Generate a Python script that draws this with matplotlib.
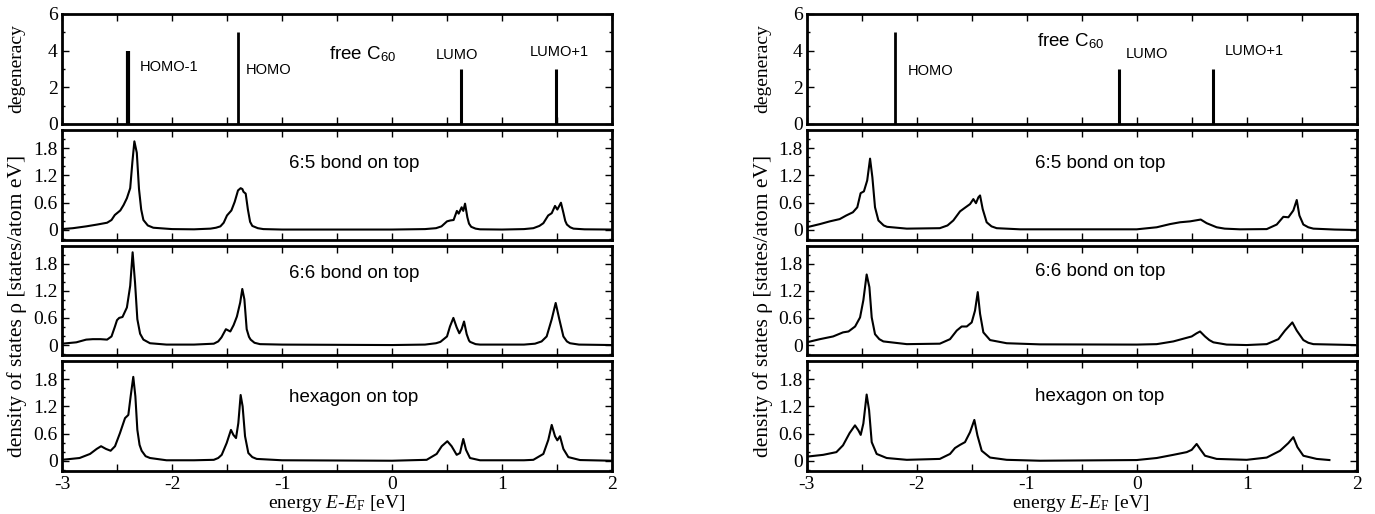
import matplotlib
matplotlib.use("Agg")
import matplotlib.pyplot as plt
from matplotlib.ticker import MultipleLocator, FixedLocator

plt.rcParams['mathtext.fontset'] = 'custom'
plt.rcParams['mathtext.rm'] = 'Liberation Serif'
plt.rcParams['mathtext.it'] = 'Liberation Serif:italic'
plt.rcParams['mathtext.sf'] = 'Liberation Sans'

SERIF = 'Liberation Serif'
SANS = 'Liberation Sans'

# ---------------- data ----------------
# free C60 levels: (energy, degeneracy)
left_levels_E = [-2.40, -1.40, 0.63, 1.49]
left_levels_g = [4, 5, 3, 3]
left_levels_lbl = ["HOMO-1", "HOMO", "LUMO", "LUMO+1"]
right_levels_E = [-2.20, -0.165, 0.695]
right_levels_g = [5, 3, 3]
right_levels_lbl = ["HOMO", "LUMO", "LUMO+1"]

# Left column DOS
L65_E = [-3.0, -2.9, -2.78, -2.68, -2.59, -2.55, -2.52, -2.47, -2.44, -2.41, -2.38, -2.36, -2.342, -2.32,
         -2.30, -2.28, -2.26, -2.22, -2.17, -2.0, -1.8, -1.65, -1.60, -1.56, -1.53, -1.50, -1.46, -1.43,
         -1.40, -1.376, -1.36, -1.35, -1.33, -1.31, -1.29, -1.27, -1.22, -1.17, -1.0, -0.5, 0.0, 0.3, 0.4,
         0.45, 0.50, 0.53, 0.56, 0.59, 0.606, 0.633, 0.648, 0.664, 0.685, 0.70, 0.72, 0.76, 0.80, 1.0, 1.2,
         1.285, 1.34, 1.376, 1.42, 1.452, 1.482, 1.503, 1.536, 1.558, 1.575, 1.59, 1.62, 1.65, 1.75, 2.0]
L65_rho = [0.02, 0.04, 0.08, 0.12, 0.16, 0.22, 0.33, 0.43, 0.55, 0.70, 0.92, 1.50, 1.95, 1.70,
           0.90, 0.45, 0.22, 0.10, 0.05, 0.02, 0.015, 0.03, 0.05, 0.08, 0.16, 0.32, 0.43, 0.62,
           0.87, 0.92, 0.90, 0.84, 0.80, 0.45, 0.18, 0.09, 0.04, 0.02, 0.01, 0.01, 0.01, 0.02, 0.04,
           0.08, 0.19, 0.21, 0.22, 0.42, 0.36, 0.50, 0.42, 0.58, 0.28, 0.14, 0.07, 0.03, 0.015, 0.01, 0.02,
           0.04, 0.09, 0.15, 0.32, 0.37, 0.53, 0.45, 0.60, 0.38, 0.20, 0.12, 0.06, 0.03, 0.015, 0.01]

L66_E = [-3.0, -2.87, -2.78, -2.72, -2.65, -2.59, -2.55, -2.52, -2.50, -2.48, -2.45, -2.41, -2.38, -2.358,
         -2.336, -2.315, -2.29, -2.26, -2.2, -2.05, -1.8, -1.62, -1.58, -1.55, -1.51, -1.47, -1.44, -1.41,
         -1.38, -1.361, -1.342, -1.321, -1.30, -1.285, -1.25, -1.2, -1.0, 0.0, 0.3, 0.40, 0.44, 0.50, 0.527,
         0.558, 0.588, 0.612, 0.633, 0.655, 0.679, 0.70, 0.71, 0.76, 0.80, 1.2, 1.3, 1.36, 1.406, 1.452,
         1.488, 1.521, 1.558, 1.59, 1.618, 1.70, 2.0]
L66_rho = [0.03, 0.06, 0.12, 0.13, 0.13, 0.12, 0.19, 0.40, 0.55, 0.60, 0.62, 0.83, 1.31, 2.05,
           1.38, 0.57, 0.25, 0.12, 0.04, 0.01, 0.01, 0.03, 0.08, 0.17, 0.35, 0.30, 0.44, 0.63,
           0.94, 1.24, 1.01, 0.35, 0.18, 0.12, 0.05, 0.02, 0.01, 0.0, 0.01, 0.04, 0.07, 0.19, 0.41,
           0.60, 0.39, 0.26, 0.35, 0.52, 0.24, 0.10, 0.07, 0.02, 0.01, 0.01, 0.03, 0.08, 0.19, 0.57,
           0.93, 0.57, 0.19, 0.08, 0.04, 0.01, 0.0]

LHX_E = [-3.0, -2.84, -2.745, -2.685, -2.645, -2.60, -2.558, -2.518, -2.473, -2.427, -2.397, -2.376, -2.352,
         -2.333, -2.315, -2.295, -2.276, -2.24, -2.20, -2.05, -1.8, -1.62, -1.58, -1.548, -1.503, -1.464,
         -1.442, -1.418, -1.397, -1.376, -1.358, -1.336, -1.306, -1.27, -1.23, -1.0, 0.0, 0.315, 0.406,
         0.452, 0.503, 0.542, 0.588, 0.618, 0.648, 0.673, 0.709, 0.80, 1.2, 1.285, 1.376, 1.421, 1.452,
         1.482, 1.503, 1.527, 1.558, 1.603, 1.709, 2.0]
LHX_rho = [0.02, 0.06, 0.15, 0.26, 0.32, 0.26, 0.22, 0.32, 0.61, 0.94, 1.01, 1.42, 1.85,
           1.42, 0.68, 0.35, 0.22, 0.10, 0.06, 0.01, 0.01, 0.02, 0.06, 0.13, 0.39, 0.68,
           0.57, 0.50, 0.83, 1.45, 1.20, 0.54, 0.17, 0.08, 0.04, 0.01, 0.0, 0.02, 0.15,
           0.32, 0.43, 0.32, 0.13, 0.17, 0.48, 0.24, 0.06, 0.01, 0.01, 0.02, 0.15, 0.46, 0.79,
           0.54, 0.45, 0.54, 0.26, 0.08, 0.015, 0.0]

# Right column DOS
R65_E = [-3.0, -2.88, -2.79, -2.70, -2.64, -2.58, -2.54, -2.51, -2.48, -2.45, -2.424, -2.403, -2.379, -2.348,
         -2.30, -2.27, -2.09, -1.79, -1.72, -1.667, -1.606, -1.561, -1.515, -1.485, -1.461, -1.439, -1.424,
         -1.400, -1.364, -1.32, -1.273, -1.06, 0.0, 0.182, 0.303, 0.394, 0.485, 0.582, 0.636, 0.727, 0.80,
         0.939, 1.182, 1.273, 1.333, 1.379, 1.424, 1.455, 1.479, 1.515, 1.56, 1.606, 1.8, 2.0]
R65_rho = [0.06, 0.13, 0.19, 0.24, 0.32, 0.39, 0.50, 0.81, 0.85, 1.09, 1.57, 1.16, 0.50, 0.21,
           0.10, 0.07, 0.03, 0.04, 0.10, 0.21, 0.41, 0.49, 0.57, 0.68, 0.59, 0.72, 0.76,
           0.46, 0.17, 0.08, 0.04, 0.015, 0.015, 0.06, 0.13, 0.17, 0.19, 0.23, 0.15, 0.06, 0.03,
           0.015, 0.02, 0.12, 0.29, 0.28, 0.43, 0.66, 0.32, 0.12, 0.06, 0.03, 0.01, 0.0]

R66_E = [-3.0, -2.88, -2.76, -2.67, -2.62, -2.56, -2.515, -2.485, -2.455, -2.43, -2.409, -2.379, -2.34, -2.303,
         -2.09, -1.79, -1.697, -1.636, -1.591, -1.545, -1.50, -1.47, -1.445, -1.424, -1.394, -1.333, -1.182,
         -0.879, 0.0, 0.182, 0.333, 0.424, 0.50, 0.545, 0.576, 0.621, 0.66, 0.697, 0.818, 1.0, 1.182, 1.288,
         1.348, 1.415, 1.455, 1.515, 1.56, 1.606, 1.985]
R66_rho = [0.06, 0.13, 0.19, 0.28, 0.30, 0.41, 0.61, 0.99, 1.56, 1.28, 0.61, 0.24, 0.13, 0.08,
           0.02, 0.03, 0.13, 0.32, 0.41, 0.41, 0.50, 0.76, 1.17, 0.69, 0.28, 0.11, 0.04,
           0.015, 0.01, 0.02, 0.08, 0.14, 0.19, 0.26, 0.30, 0.19, 0.11, 0.06, 0.01, 0.0, 0.02, 0.13,
           0.32, 0.50, 0.32, 0.11, 0.05, 0.02, 0.0]

RHX_E = [-3.0, -2.85, -2.73, -2.67, -2.61, -2.561, -2.53, -2.509, -2.485, -2.455, -2.433, -2.409, -2.364, -2.273,
         -2.09, -1.79, -1.697, -1.652, -1.606, -1.561, -1.515, -1.476, -1.448, -1.409, -1.333, -1.182, -0.879,
         0.0, 0.182, 0.333, 0.455, 0.50, 0.545, 0.576, 0.621, 0.727, 1.0, 1.182, 1.303, 1.379, 1.424, 1.461,
         1.515, 1.636, 1.752]
RHX_rho = [0.09, 0.13, 0.19, 0.34, 0.61, 0.78, 0.67, 0.57, 0.82, 1.46, 1.12, 0.41, 0.15, 0.06,
           0.02, 0.04, 0.15, 0.28, 0.35, 0.41, 0.63, 0.90, 0.56, 0.22, 0.07, 0.02, 0.0,
           0.015, 0.06, 0.13, 0.19, 0.24, 0.37, 0.26, 0.11, 0.04, 0.02, 0.07, 0.22, 0.39, 0.52, 0.30,
           0.11, 0.04, 0.015]

panel_labels = ["6:5 bond on top", "6:6 bond on top", "hexagon on top"]
xticks = [-3, -2, -1, 0, 1, 2]
dos_yticks = [0, 0.6, 1.2, 1.8]
deg_yticks = [0, 2, 4, 6]

# ---------------- layout ----------------
W, H = 1375, 514
fig = plt.figure(figsize=(W / 100, H / 100), dpi=100)

col_x = [62, 806.7]
col_w = 550
rows = [(14, 124), (130, 240), (245.5, 355), (361, 470.7)]

TICK_FS = 14
LAB_FS = 14


def make_ax(cx, r):
    top, bot = rows[r]
    return fig.add_axes([cx / W, 1 - bot / H, col_w / W, (bot - top) / H])


def style(ax, deg=False, bottom=False):
    for s in ax.spines.values():
        s.set_linewidth(2.0)
    ax.set_xlim(-3, 2)
    ax.xaxis.set_major_locator(FixedLocator(xticks))
    ax.xaxis.set_minor_locator(MultipleLocator(0.5))
    if deg:
        ax.set_ylim(0, 6)
        ax.yaxis.set_major_locator(FixedLocator(deg_yticks))
        ax.yaxis.set_minor_locator(MultipleLocator(1))
        ax.set_yticklabels([str(v) for v in deg_yticks])
    else:
        ax.set_ylim(-0.22, 2.2)
        ax.yaxis.set_major_locator(FixedLocator(dos_yticks))
        ax.yaxis.set_minor_locator(MultipleLocator(0.2))
        ax.set_yticklabels(["0", "0.6", "1.2", "1.8"])
    ax.tick_params(axis='both', which='both', direction='in', top=True, right=True, width=1.0)
    ax.tick_params(axis='x', which='both', length=5)
    ax.tick_params(axis='y', which='major', length=5)
    ax.tick_params(axis='y', which='minor', length=2.5)
    ax.tick_params(axis='y', which='major', labelsize=TICK_FS, pad=3)
    ax.tick_params(axis='x', which='major', labelsize=TICK_FS, pad=4)
    for t in ax.get_yticklabels():
        t.set_fontfamily(SERIF)
    if bottom:
        ax.set_xticklabels([str(v) for v in xticks])
        for t in ax.get_xticklabels():
            t.set_fontfamily(SERIF)
    else:
        ax.set_xticklabels([])


columns = [
    dict(cx=col_x[0], lev_E=left_levels_E, lev_g=left_levels_g, lev_lbl=left_levels_lbl,
         lev_txt=[(-2.29, 3.1), (-1.33, 2.95), (0.40, 3.76), (1.25, 3.94)],
         free_txt=(-0.57, 3.8),
         dos=[(L65_E, L65_rho), (L66_E, L66_rho), (LHX_E, LHX_rho)],
         lbl_x=-0.94, lbl_y=[0.70, 0.745, 0.67],
         lw_lev=[3.0, 2.0, 2.2, 2.2], ylab_x=17, xlab_x=337),
    dict(cx=col_x[1], lev_E=right_levels_E, lev_g=right_levels_g, lev_lbl=right_levels_lbl,
         lev_txt=[(-2.08, 2.91), (-0.10, 3.8), (0.80, 4.0)],
         free_txt=(-0.91, 4.5),
         dos=[(R65_E, R65_rho), (R66_E, R66_rho), (RHX_E, RHX_rho)],
         lbl_x=-0.925, lbl_y=[0.70, 0.76, 0.68],
         lw_lev=[2.0, 2.2, 2.2], ylab_x=763, xlab_x=1081),
]

for col in columns:
    ax0 = make_ax(col['cx'], 0)
    style(ax0, deg=True)
    ax0.vlines(col['lev_E'], 0, col['lev_g'], colors='black', linewidth=col['lw_lev'])
    for (tx, ty), lbl in zip(col['lev_txt'], col['lev_lbl']):
        ax0.text(tx, ty, lbl, fontsize=10.5, family=SANS, ha='left', va='center')
    fx, fy = col['free_txt']
    ax0.text(fx, fy, r"free C$_{\mathsf{60}}$", fontsize=13.5, family=SANS, ha='left', va='center')
    fig.text(col['ylab_x'] / W, 1 - 69 / H, "degeneracy", rotation=90, ha='center', va='center',
             family=SERIF, fontsize=LAB_FS)

    for i, (E, rho) in enumerate(col['dos']):
        ax = make_ax(col['cx'], i + 1)
        style(ax, bottom=(i == 2))
        ax.plot(E, rho, color='black', linewidth=1.5)
        ax.text(col['lbl_x'], col['lbl_y'][i], panel_labels[i], transform=ax.get_xaxis_transform(),
                fontsize=13.5, family=SANS, ha='left', va='center')

    fig.text(col['ylab_x'] / W, 1 - 306 / H, "density of states \u03c1 [states/atom eV]",
             rotation=90, ha='center', va='center', family=SERIF, fontsize=15.5)
    fig.text(col['xlab_x'] / W, 1 - 504 / H, r"energy $E$-$E_{\mathrm{F}}$ [eV]",
             ha='center', va='center', family=SERIF, fontsize=LAB_FS)

fig.savefig("out.png", dpi=100)
